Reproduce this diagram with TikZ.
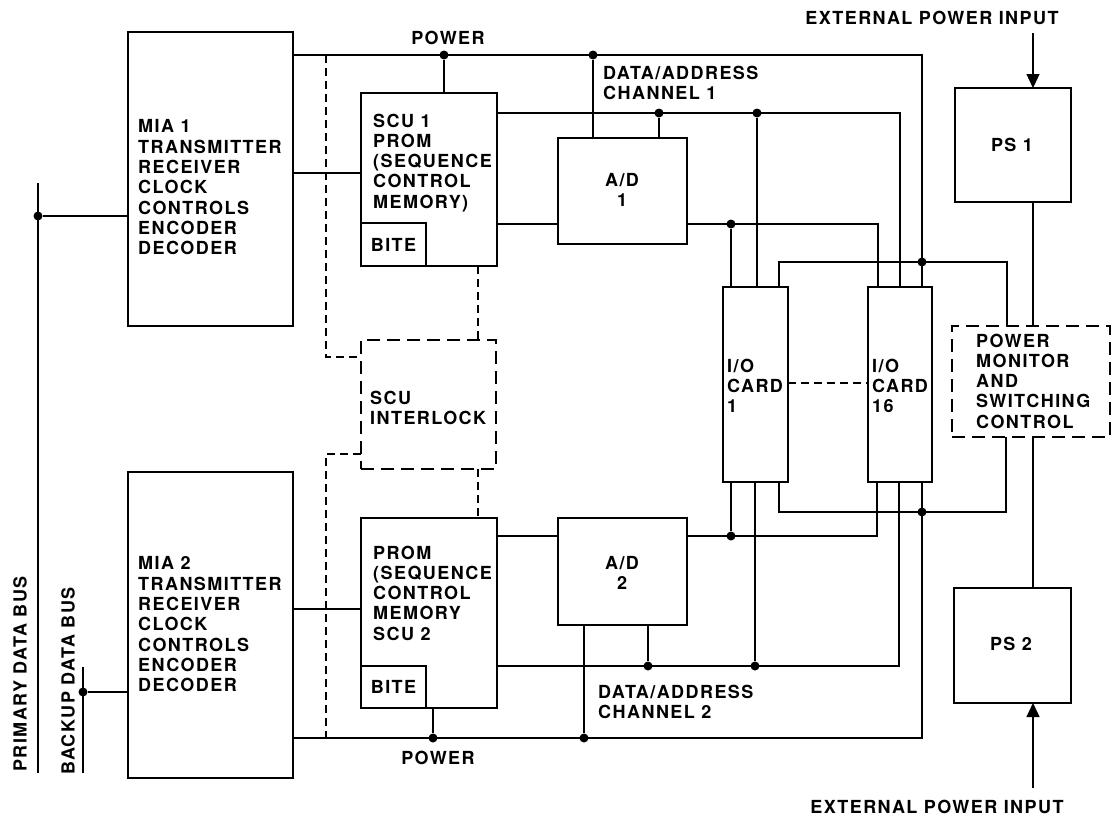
\documentclass[tikz,border=0pt]{standalone}
\usepackage{fontspec}
\setmainfont{TeX Gyre Heros}[LetterSpace=8]
\usetikzlibrary{arrows.meta}
\begin{document}
\begin{tikzpicture}[x=1pt,y=-1pt,
  wire/.style={line width=1.3pt},
  blk/.style={draw, line width=2.2pt, inner sep=0pt, outer sep=0pt, anchor=north west},
  dblk/.style={blk, dash pattern=on 13pt off 7pt},
  dwire/.style={line width=1.2pt, dash pattern=on 8pt off 5pt},
  txt/.style={inner sep=0pt, align=left, anchor=north west, font=\bfseries\fontsize{18}{20.3}\selectfont},
  ctxt/.style={inner sep=0pt, align=center, font=\bfseries\fontsize{18}{20.3}\selectfont},
  bitebox/.style={draw, line width=1.4pt, inner sep=0pt, outer sep=0pt, anchor=south west, font=\bfseries\fontsize{18}{20.3}\selectfont},
  dot/.style={circle, fill, inner sep=0pt, minimum size=9pt},
  arr/.style={wire, -{Triangle[length=14pt,width=13pt]}},
]
\useasboundingbox (0,0) rectangle (1112,819);

% ---------- blocks ----------
\node[blk, minimum width=165pt, minimum height=294pt] (mia1) at (128,32) {};
\node[blk, minimum width=165pt, minimum height=306pt] (mia2) at (128,472) {};
\node[blk, minimum width=136pt, minimum height=173pt] (scu1) at (361,93) {};
\node[blk, minimum width=136pt, minimum height=190pt] (scu2) at (361,518) {};
\node[bitebox, minimum width=65pt, minimum height=43pt] (bite1) at (scu1.south west) {BITE};
\node[bitebox, minimum width=65pt, minimum height=42pt] (bite2) at (scu2.south west) {BITE};
\node[dblk, minimum width=135pt, minimum height=129pt] (il) at (361,340) {};
\node[blk, minimum width=129pt, minimum height=106pt] (ad1) at (558,138) {};
\node[blk, minimum width=129pt, minimum height=107pt] (ad2) at (558,518) {};
\node[blk, minimum width=65pt, minimum height=195pt] (io1) at (723,287) {};
\node[blk, minimum width=64pt, minimum height=195pt] (io16) at (868,287) {};
\node[dblk, minimum width=158pt, minimum height=111pt] (pm) at (952,326) {};
\node[blk, minimum width=116pt, minimum height=114pt] (ps1) at (955,88) {};
\node[blk, minimum width=117pt, minimum height=115pt] (ps2) at (954,588) {};

% ---------- texts ----------
\node[txt] (mia1t) at (138,119.5) {MIA 1\\TRANSMITTER\\RECEIVER\\CLOCK\\CONTROLS\\ENCODER\\DECODER};
\node[txt] (mia2t) at (138,556.5) {MIA 2\\TRANSMITTER\\RECEIVER\\CLOCK\\CONTROLS\\ENCODER\\DECODER};
\node[txt] (scu1t) at (373,113.5) {SCU 1\\PROM\\(SEQUENCE\\CONTROL\\MEMORY)};
\node[txt] (scu2t) at (373,545.5) {PROM\\(SEQUENCE\\CONTROL\\MEMORY\\SCU 2};
\node[txt] (ilt) at (370,390.5) {SCU\\INTERLOCK};
\node[txt] (io1t) at (727,358.5) {I/O\\CARD\\1};
\node[txt] (io16t) at (872,358.5) {I/O\\CARD\\16};
\node[txt] (pmt) at (976,333.5) {POWER\\MONITOR\\AND\\SWITCHING\\CONTROL};
\node[ctxt] (ad1t) at (622,190) {A/D\\1};
\node[ctxt] (ad2t) at (622,573) {A/D\\2};
\node[ctxt] (ps1t) at (1012,145) {PS 1};
\node[ctxt] (ps2t) at (1011,644) {PS 2};
\node[ctxt] (powT) at (448,38) {POWER};
\node[ctxt] (powB) at (438,758) {POWER};
\node[txt] (ch1t) at (603,65.5) {DATA/ADDRESS\\CHANNEL 1};
\node[txt] (ch2t) at (598,684.5) {DATA/ADDRESS\\CHANNEL 2};
\node[ctxt] (extT) at (932,18) {EXTERNAL POWER INPUT};
\node[ctxt] (extB) at (937,807) {EXTERNAL POWER INPUT};
\node[ctxt, rotate=90] (pdb) at (20,674) {PRIMARY DATA BUS};
\node[ctxt, rotate=90] (bdb) at (68,681) {BACKUP DATA BUS};

% ---------- junctions ----------
\node[dot] (dbp) at (38,216) {};
\node[dot] (dbb) at (83,692) {};
\node[dot] (dpa) at (444,55) {};
\node[dot] (dpb) at (593,55) {};
\node[dot] (dpc) at (922,262) {};
\node[dot] (dca) at (659,113) {};
\node[dot] (dcb) at (757,113) {};
\node[dot] (dda) at (731,224) {};
\node[dot] (dpd) at (433,738) {};
\node[dot] (dpe) at (584,738) {};
\node[dot] (dpf) at (922,512) {};
\node[dot] (dcc) at (648,666) {};
\node[dot] (dcd) at (755,666) {};
\node[dot] (ddb) at (731,536) {};

\coordinate (pbT) at (38,183);
\coordinate (pbB) at (38,773);
\coordinate (bbT) at (83,667);
\coordinate (bbB) at (83,773);
\coordinate (eT) at (1033,33);
\coordinate (eB) at (1033,788);

% ---------- wires ----------
\draw[wire] (pbT) -- (pbB);
\draw[wire] (dbp) -- (mia1.west |- dbp);
\draw[wire] (bbT) -- (bbB);
\draw[wire] (dbb) -- (mia2.west |- dbb);
\draw[wire] (mia1.east |- 0,173) -- (scu1.west |- 0,173);
\draw[wire] (mia2.east |- 0,609) -- (scu2.west |- 0,609);

% top power
\draw[wire] (mia1.east |- 0,55) -- (922,55) -- (io16.north -| 922,0);
\draw[wire] (dpa) -- (scu1.north -| dpa);
\draw[wire] (dpb) -- (ad1.north -| dpb);
% channel 1
\draw[wire] (scu1.east |- 0,113) -- (900,113) -- (io16.north -| 900,0);
\draw[wire] (dca) -- (ad1.north -| dca);
\draw[wire] (dcb) -- (io1.north -| dcb);
\draw[wire] (scu1.east |- 0,224) -- (ad1.west |- 0,224);
\draw[wire] (ad1.east |- 0,224) -- (878,224) -- (io16.north -| 878,0);
\draw[wire] (dda) -- (io1.north -| dda);
\draw[wire] (io1.north -| 779,0) -- (779,262) -- (1007,262) -- (pm.north -| 1007,0);
\draw[wire] (ps1.south -| 1033,0) -- (pm.north -| 1033,0);
\draw[arr] (eT) -- (ps1.north -| eT);

% bottom
\draw[wire] (scu2.east |- 0,536) -- (ad2.west |- 0,536);
\draw[wire] (ad2.east |- 0,536) -- (877,536) -- (io16.south -| 877,0);
\draw[wire] (ddb) -- (io1.south -| ddb);
\draw[wire] (scu2.east |- 0,666) -- (899,666) -- (io16.south -| 899,0);
\draw[wire] (dcc) -- (ad2.south -| dcc);
\draw[wire] (dcd) -- (io1.south -| dcd);
\draw[wire] (mia2.east |- 0,738) -- (922,738) -- (io16.south -| 922,0);
\draw[wire] (dpd) -- (scu2.south -| dpd);
\draw[wire] (dpe) -- (ad2.south -| dpe);
\draw[wire] (io1.south -| 779,0) -- (779,512) -- (1006,512) -- (pm.south -| 1006,0);
\draw[wire] (pm.south -| 1033,0) -- (ps2.north -| 1033,0);
\draw[arr] (eB) -- (ps2.south -| eB);

% dashed interlock wiring
\draw[dwire] (326,55) -- (326,357) -- (il.west |- 0,357);
\draw[dwire] (scu1.south -| 478,0) -- (il.north -| 478,0);
\draw[dwire] (il.south -| 478,0) -- (scu2.north -| 478,0);
\draw[dwire] (il.west |- 0,454) -- (326,454) -- (326,738);
\draw[dwire] (io1.east |- 0,383) -- (io16.west |- 0,383);
\end{tikzpicture}
\end{document}
